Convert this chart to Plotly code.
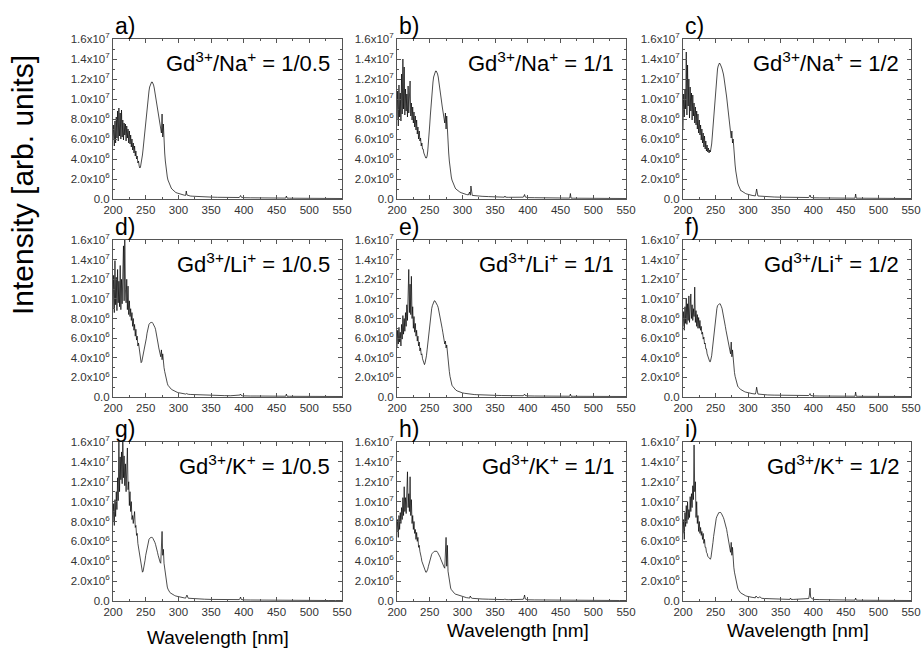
import plotly.graph_objects as go

W, H = 922, 655

# wavelength grid [nm]: 1 nm steps over the noisy UV part, sparser tail
wl_fine = list(range(200, 290))
wl_tail = [290, 292, 294, 296, 298, 300, 303, 306, 309, 311,
           312, 313, 315, 318, 321, 325, 330, 340, 350, 360,
           364, 365, 366, 370, 380, 390, 393, 394, 395, 396,
           398, 400, 410, 420, 430, 440, 450, 460, 464, 465,
           466, 470, 480, 490, 500, 510, 520, 530, 540, 550]
wavelength = wl_fine + wl_tail

# intensities in units of 1e6
na_05 = [6.0, 7.4, 5.3, 7.8, 5.6, 8.2, 6.1, 8.8, 5.8, 9.1,
         6.3, 8.6, 6.0, 8.9, 6.2, 7.9, 5.9, 7.6, 6.4, 7.5,
         5.8, 7.3, 6.1, 7.0, 5.6, 6.8, 5.5, 6.4, 5.2, 6.0,
         4.9, 5.6, 4.6, 5.3, 4.3, 4.8, 4.0, 4.3, 3.6, 3.8,
         3.3, 3.1, 3.2, 3.5, 3.9, 4.4, 5.0, 5.7, 6.4, 7.2,
         7.9, 8.6, 9.3, 9.9, 10.4, 10.8, 11.2, 11.4, 11.6, 11.7,
         11.7, 11.6, 11.4, 11.1, 10.7, 10.2, 9.8, 9.3, 8.8, 8.3,
         7.9, 7.5, 7.2, 6.9, 6.6, 8.5, 6.2, 7.5, 5.2, 4.6,
         3.8, 3.1, 2.6, 2.2, 1.9, 1.7, 1.5, 1.3, 1.2, 1.1,
         1.0, 0.85, 0.75, 0.65, 0.6, 0.55, 0.48, 0.42, 0.38, 0.36,
         0.8, 0.4, 0.33, 0.3, 0.28, 0.26, 0.24, 0.21, 0.19, 0.17,
         0.16, 0.16, 0.16, 0.15, 0.14, 0.14, 0.15, 0.25, 0.35, 0.18,
         0.14, 0.13, 0.12, 0.11, 0.1, 0.1, 0.09, 0.09, 0.09, 0.3,
         0.09, 0.08, 0.08, 0.07, 0.07, 0.06, 0.06, 0.05, 0.05, 0.05]

na_1 = [8.0, 10.8, 7.3, 11.4, 8.2, 10.6, 7.8, 12.5, 8.5, 14.0,
        9.0, 13.2, 8.4, 11.0, 8.8, 10.5, 8.2, 11.3, 8.6, 10.1,
        11.8, 8.3, 9.6, 7.9, 9.2, 7.6, 8.7, 7.2, 8.3, 6.9,
        7.9, 6.5, 7.2, 6.0, 6.8, 5.8, 6.1, 5.3, 5.6, 5.0,
        5.0, 4.6, 4.4, 4.2, 4.1, 4.1, 4.3, 4.8, 5.5, 6.4,
        7.4, 8.4, 9.4, 10.3, 11.0, 11.7, 12.2, 12.5, 12.7, 12.8,
        12.8, 12.7, 12.5, 12.2, 11.8, 11.3, 10.8, 10.3, 9.8, 9.3,
        8.9, 8.5, 8.0, 7.6, 8.6, 7.0, 8.3, 6.5, 5.4, 4.6,
        3.8, 3.1, 2.6, 2.2, 1.9, 1.7, 1.5, 1.3, 1.2, 1.1,
        1.0, 0.88, 0.78, 0.7, 0.63, 0.57, 0.5, 0.45, 0.41, 0.7,
        0.38, 1.3, 0.36, 0.33, 0.31, 0.29, 0.27, 0.24, 0.21, 0.19,
        0.18, 0.3, 0.18, 0.17, 0.16, 0.16, 0.18, 0.3, 0.45, 0.2,
        0.16, 0.14, 0.13, 0.12, 0.11, 0.1, 0.1, 0.09, 0.09, 0.55,
        0.09, 0.08, 0.08, 0.07, 0.07, 0.06, 0.06, 0.06, 0.05, 0.05]

na_2 = [7.0, 10.5, 8.2, 11.0, 9.0, 14.7, 8.4, 13.4, 9.3, 12.0,
        8.1, 11.2, 8.8, 10.6, 7.9, 10.4, 8.3, 9.6, 7.6, 9.2,
        7.4, 8.8, 7.0, 8.5, 6.6, 7.9, 6.4, 7.4, 5.9, 7.0,
        5.6, 6.6, 5.2, 6.3, 5.0, 5.8, 4.8, 5.4, 4.7, 5.1,
        4.6, 4.9, 4.7, 5.0, 5.5, 6.3, 7.2, 8.2, 9.2, 10.1,
        11.0, 11.8, 12.5, 13.0, 13.3, 13.5, 13.6, 13.5, 13.4, 13.2,
        13.0, 12.8, 12.5, 12.1, 11.7, 11.2, 10.7, 10.2, 9.6, 8.9,
        8.2, 7.6, 7.1, 6.6, 6.1, 6.8, 5.6, 6.0, 4.8, 4.2,
        3.4, 2.8, 2.3, 1.9, 1.6, 1.4, 1.2, 1.0, 0.9, 0.8,
        0.8, 0.7, 0.62, 0.55, 0.5, 0.45, 0.4, 0.36, 0.33, 0.31,
        0.6, 1.0, 0.3, 0.28, 0.26, 0.24, 0.22, 0.2, 0.18, 0.16,
        0.15, 0.15, 0.15, 0.14, 0.14, 0.13, 0.15, 0.25, 0.4, 0.18,
        0.13, 0.12, 0.11, 0.1, 0.1, 0.09, 0.09, 0.08, 0.08, 0.5,
        0.08, 0.08, 0.07, 0.07, 0.06, 0.06, 0.05, 0.05, 0.05, 0.05]

li_05 = [9.0, 12.4, 8.6, 13.9, 9.4, 12.2, 8.8, 13.0, 9.6, 11.8,
         9.2, 13.4, 8.9, 12.0, 9.5, 12.5, 15.4, 9.8, 16.0, 11.0,
         9.6, 12.0, 8.9, 11.3, 8.4, 9.8, 8.2, 9.0, 7.8, 8.6,
         7.2, 8.0, 6.8, 7.4, 6.2, 6.9, 5.8, 6.2, 5.2, 5.5,
         4.8, 4.3, 3.8, 3.5, 3.6, 3.9, 4.3, 4.7, 5.0, 5.3,
         5.5, 6.0, 6.5, 6.9, 7.2, 7.4, 7.5, 7.6, 7.6, 7.6,
         7.6, 7.5, 7.4, 7.3, 7.1, 6.9, 6.6, 6.2, 5.8, 5.4,
         5.0, 4.7, 4.4, 4.1, 4.8, 3.8, 4.4, 3.4, 3.0, 2.6,
         2.2, 1.9, 1.6, 1.4, 1.2, 1.1, 1.0, 0.9, 0.85, 0.8,
         0.75, 0.66, 0.59, 0.53, 0.48, 0.44, 0.39, 0.35, 0.32, 0.3,
         0.35, 0.3, 0.28, 0.26, 0.25, 0.23, 0.21, 0.19, 0.17, 0.16,
         0.15, 0.15, 0.15, 0.14, 0.13, 0.13, 0.14, 0.2, 0.3, 0.16,
         0.12, 0.11, 0.1, 0.1, 0.09, 0.09, 0.08, 0.08, 0.08, 0.3,
         0.08, 0.07, 0.07, 0.06, 0.06, 0.06, 0.05, 0.05, 0.05, 0.05]

li_1 = [5.0, 6.8, 5.4, 7.1, 5.6, 6.6, 5.2, 7.4, 5.9, 8.3,
        6.4, 8.0, 6.7, 8.6, 7.2, 9.4, 7.8, 10.2, 13.0, 8.6,
        11.5, 8.4, 12.3, 8.0, 9.2, 7.0, 8.2, 6.6, 7.5, 6.2,
        6.8, 5.7, 6.2, 5.2, 5.6, 4.7, 5.0, 4.3, 4.4, 3.9,
        3.6, 3.4, 3.3, 3.5, 3.8, 4.2, 4.8, 5.5, 6.2, 6.9,
        7.5, 8.1, 8.6, 9.0, 9.3, 9.5, 9.7, 9.8, 9.8, 9.7,
        9.6, 9.5, 9.3, 9.1, 8.8, 8.5, 8.2, 7.8, 7.4, 7.0,
        6.6, 6.2, 5.8, 5.4, 5.7, 5.0, 5.3, 4.4, 3.8, 3.2,
        2.6, 2.1, 1.7, 1.4, 1.2, 1.1, 1.0, 0.9, 0.8, 0.75,
        0.7, 0.62, 0.56, 0.5, 0.46, 0.42, 0.38, 0.34, 0.31, 0.29,
        0.3, 0.28, 0.27, 0.25, 0.24, 0.22, 0.2, 0.18, 0.17, 0.15,
        0.14, 0.14, 0.14, 0.13, 0.13, 0.12, 0.13, 0.2, 0.3, 0.15,
        0.12, 0.11, 0.1, 0.1, 0.09, 0.09, 0.08, 0.08, 0.08, 0.3,
        0.08, 0.07, 0.07, 0.06, 0.06, 0.06, 0.05, 0.05, 0.05, 0.05]

li_2 = [7.2, 8.7, 6.8, 9.2, 7.5, 10.0, 7.4, 9.5, 7.8, 10.3,
        7.6, 9.6, 10.5, 8.0, 9.4, 7.8, 9.0, 8.2, 11.2, 7.6,
        8.8, 7.2, 8.4, 7.0, 8.1, 7.0, 7.8, 6.8, 7.2, 6.4,
        6.6, 5.9, 6.1, 5.4, 5.5, 4.9, 4.9, 4.4, 4.2, 3.9,
        3.7, 3.6, 3.6, 3.8, 4.2, 4.8, 5.5, 6.3, 7.0, 7.7,
        8.2, 8.7, 9.0, 9.3, 9.4, 9.5, 9.5, 9.5, 9.4, 9.2,
        9.0, 8.7, 8.4, 8.0, 7.6, 7.2, 6.8, 6.4, 6.0, 5.6,
        5.3, 5.0, 4.7, 4.4, 5.6, 4.1, 4.8, 3.6, 3.0, 2.5,
        2.1, 1.8, 1.5, 1.3, 1.1, 1.0, 0.9, 0.85, 0.8, 0.75,
        0.7, 0.62, 0.56, 0.5, 0.46, 0.42, 0.38, 0.35, 0.32, 0.3,
        0.5, 1.0, 0.3, 0.27, 0.25, 0.23, 0.21, 0.19, 0.17, 0.16,
        0.15, 0.15, 0.15, 0.14, 0.13, 0.13, 0.15, 0.22, 0.35, 0.16,
        0.12, 0.11, 0.1, 0.1, 0.09, 0.09, 0.08, 0.08, 0.08, 0.5,
        0.08, 0.07, 0.07, 0.06, 0.06, 0.06, 0.05, 0.05, 0.05, 0.05]

k_05 = [8.0, 9.8, 7.6, 10.2, 8.5, 11.0, 9.2, 12.4, 10.1, 16.2,
        11.0, 14.5, 12.2, 15.0, 11.8, 16.5, 12.4, 14.6, 11.6, 13.8,
        11.0, 13.2, 15.4, 11.2, 12.0, 9.6, 11.0, 9.0, 10.0, 8.2,
        8.6, 7.8, 8.4, 9.0, 7.4, 7.6, 6.6, 6.8, 5.8, 5.4,
        5.0, 4.5, 4.0, 3.5, 3.1, 2.9, 3.0, 3.3, 3.7, 4.1,
        4.6, 5.0, 5.4, 5.7, 6.0, 6.2, 6.3, 6.4, 6.4, 6.4,
        6.4, 6.3, 6.2, 6.1, 5.9, 5.7, 5.5, 5.2, 4.9, 4.6,
        4.3, 4.1, 3.9, 3.8, 5.5, 7.0, 4.6, 5.2, 3.8, 3.2,
        2.6, 2.1, 1.7, 1.4, 1.2, 1.05, 0.95, 0.85, 0.8, 0.75,
        0.7, 0.62, 0.56, 0.5, 0.46, 0.42, 0.38, 0.34, 0.31, 0.29,
        0.4, 0.6, 0.28, 0.26, 0.24, 0.22, 0.2, 0.18, 0.16, 0.15,
        0.14, 0.14, 0.14, 0.13, 0.12, 0.12, 0.14, 0.25, 0.4, 0.16,
        0.12, 0.11, 0.1, 0.09, 0.09, 0.08, 0.08, 0.08, 0.07, 0.1,
        0.07, 0.07, 0.06, 0.06, 0.06, 0.05, 0.05, 0.05, 0.05, 0.05]

k_1 = [7.0, 8.2, 6.4, 8.6, 7.2, 8.9, 7.8, 9.4, 8.2, 10.4,
       8.6, 11.5, 9.0, 10.4, 8.8, 11.0, 13.0, 9.4, 10.8, 9.0,
       12.5, 8.6, 10.2, 7.8, 8.6, 7.2, 8.0, 6.8, 7.2, 6.2,
       6.9, 6.0, 6.4, 5.4, 5.6, 5.0, 4.8, 4.4, 4.0, 3.8,
       3.5, 3.3, 3.1, 3.0, 2.9, 2.9, 3.0, 3.2, 3.5, 3.8,
       4.1, 4.3, 4.5, 4.7, 4.8, 4.9, 5.0, 5.0, 5.0, 5.0,
       5.0, 5.0, 4.9, 4.8, 4.7, 4.6, 4.4, 4.2, 4.0, 3.8,
       3.7, 3.6, 3.4, 3.3, 4.8, 6.4, 3.5, 5.6, 3.0, 2.4,
       1.9, 1.6, 1.3, 1.15, 1.05, 0.95, 0.85, 0.8, 0.75, 0.7,
       0.68, 0.6, 0.54, 0.49, 0.45, 0.41, 0.37, 0.34, 0.31, 0.29,
       0.5, 0.35, 0.27, 0.25, 0.24, 0.22, 0.2, 0.18, 0.16, 0.15,
       0.14, 0.22, 0.14, 0.13, 0.13, 0.14, 0.17, 0.35, 0.6, 0.2,
       0.13, 0.12, 0.11, 0.1, 0.09, 0.09, 0.08, 0.08, 0.08, 0.12,
       0.08, 0.07, 0.07, 0.06, 0.06, 0.06, 0.05, 0.05, 0.05, 0.05]

k_2 = [6.8, 8.2, 6.2, 8.9, 7.5, 9.6, 7.8, 10.0, 8.2, 9.2,
       8.4, 10.5, 9.0, 10.8, 9.4, 11.6, 10.2, 15.7, 11.0, 12.0,
       8.4, 10.0, 7.8, 8.6, 7.0, 8.0, 6.8, 7.4, 6.6, 7.0,
       6.2, 6.8, 5.8, 6.2, 5.4, 5.4, 4.9, 4.8, 4.5, 4.4,
       4.3, 4.2, 4.2, 4.4, 4.8, 5.3, 5.9, 6.5, 7.1, 7.6,
       8.0, 8.3, 8.5, 8.7, 8.8, 8.9, 8.9, 8.9, 8.9, 8.8,
       8.7, 8.6, 8.4, 8.2, 8.0, 7.8, 7.5, 7.2, 6.8, 6.4,
       6.0, 5.6, 5.2, 4.9, 5.9, 4.6, 5.4, 4.0, 3.4, 2.9,
       2.5, 2.1, 1.8, 1.5, 1.3, 1.15, 1.0, 0.9, 0.85, 0.8,
       0.75, 0.66, 0.59, 0.53, 0.48, 0.44, 0.4, 0.37, 0.34, 0.32,
       0.5, 0.4, 0.3, 0.42, 0.27, 0.25, 0.23, 0.2, 0.18, 0.17,
       0.16, 0.3, 0.16, 0.16, 0.17, 0.2, 0.25, 0.6, 1.3, 0.35,
       0.2, 0.16, 0.14, 0.12, 0.11, 0.1, 0.1, 0.09, 0.09, 0.3,
       0.09, 0.08, 0.08, 0.07, 0.07, 0.06, 0.06, 0.05, 0.05, 0.05]

letters = ["a)", "b)", "c)", "d)", "e)", "f)", "g)", "h)", "i)"]
ratios = ["Gd<sup>3+</sup>/Na<sup>+</sup> = 1/0.5", "Gd<sup>3+</sup>/Na<sup>+</sup> = 1/1",
          "Gd<sup>3+</sup>/Na<sup>+</sup> = 1/2",
          "Gd<sup>3+</sup>/Li<sup>+</sup> = 1/0.5", "Gd<sup>3+</sup>/Li<sup>+</sup> = 1/1",
          "Gd<sup>3+</sup>/Li<sup>+</sup> = 1/2",
          "Gd<sup>3+</sup>/K<sup>+</sup> = 1/0.5", "Gd<sup>3+</sup>/K<sup>+</sup> = 1/1",
          "Gd<sup>3+</sup>/K<sup>+</sup> = 1/2"]
spectra = [na_05, na_1, na_2, li_05, li_1, li_2, k_05, k_1, k_2]

y_ticks = [0, 2e6, 4e6, 6e6, 8e6, 1e7, 1.2e7, 1.4e7, 1.6e7]
y_ticktext = ["0.0", "2.0x10<sup>6</sup>", "4.0x10<sup>6</sup>", "6.0x10<sup>6</sup>",
              "8.0x10<sup>6</sup>", "1.0x10<sup>7</sup>", "1.2x10<sup>7</sup>",
              "1.4x10<sup>7</sup>", "1.6x10<sup>7</sup>"]
x_ticks = [200, 250, 300, 350, 400, 450, 500, 550]

# panel boxes in pixels
cols = [(113, 342), (397, 626), (683, 911)]
rows = [(39, 199), (240, 397), (442, 601)]

FONT = "Liberation Sans, Arial, sans-serif"

fig = go.Figure()
annotations = []
for i in range(9):
    r, c = divmod(i, 3)
    n = "" if i == 0 else str(i + 1)
    x0, x1 = cols[c]
    y0, y1 = rows[r]
    fig.add_trace(go.Scatter(
        x=wavelength, y=[v * 1e6 for v in spectra[i]],
        mode="lines", line=dict(color="black", width=0.7),
        xaxis="x" + n, yaxis="y" + n, showlegend=False))
    axis_common = dict(showline=True, linecolor="#555", linewidth=1, mirror="allticks",
                       ticks="inside", ticklen=4, tickcolor="#555", showgrid=False,
                       zeroline=False, tickfont=dict(size=11.5, color="#333", family=FONT))
    fig.update_layout(**{
        "xaxis" + n: dict(domain=[x0 / W, x1 / W], anchor="y" + n, range=[200, 550],
                          tickvals=x_ticks, minor=dict(dtick=25, ticks="inside", ticklen=2,
                                                       tickcolor="#555"),
                          **axis_common),
        "yaxis" + n: dict(domain=[1 - y1 / H, 1 - y0 / H], anchor="x" + n, range=[0, 1.6e7],
                          tickvals=y_ticks, ticktext=y_ticktext,
                          minor=dict(dtick=1e6, ticks="inside", ticklen=2, tickcolor="#555"),
                          **axis_common),
    })
    annotations.append(dict(text=letters[i], x=x0 / W, y=1 - (y0 + 2) / H, xref="paper",
                            yref="paper", xanchor="left", yanchor="bottom", showarrow=False,
                            font=dict(size=23, color="black", family=FONT)))
    annotations.append(dict(text=ratios[i], x=(x1 - 10) / W, y=1 - (y0 + 23) / H,
                            xref="paper", yref="paper", xanchor="right", yanchor="middle",
                            showarrow=False, font=dict(size=22, color="black", family=FONT)))

for xc, yc in [(218, 637), (518, 630), (798, 630)]:
    annotations.append(dict(text="Wavelength [nm]", x=xc / W, y=1 - yc / H, xref="paper",
                            yref="paper", xanchor="center", yanchor="middle", showarrow=False,
                            font=dict(size=19, color="black", family=FONT)))

annotations.append(dict(text="Intensity [arb. units]", x=22 / W, y=1 - 185 / H, xref="paper",
                        yref="paper", xanchor="center", yanchor="middle", textangle=-90,
                        showarrow=False, font=dict(size=30, color="black", family=FONT)))

fig.update_layout(width=W, height=H, margin=dict(l=0, r=0, t=0, b=0, autoexpand=False),
                  paper_bgcolor="white", plot_bgcolor="white",
                  annotations=annotations, font=dict(family=FONT))

# drop the browser's default 8px body margin so the figure sits at the page origin
fig.write_html("out.html", config={"displayModeBar": False},
               post_script="document.body.style.margin='0';")
